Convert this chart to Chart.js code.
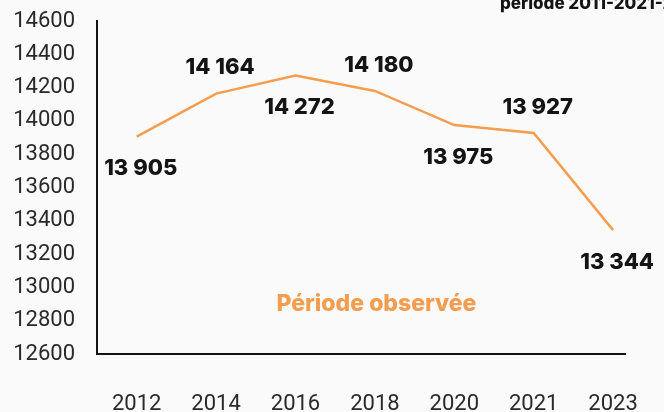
<!DOCTYPE html>
<html>
<head>
<meta charset="utf-8">
<script src="https://cdn.jsdelivr.net/npm/chart.js@4/dist/chart.umd.min.js"></script>
<style>
  html, body { margin: 0; padding: 0; background: #fafafa; }
  #wrap { width: 664px; height: 412px; position: relative; }
</style>
</head>
<body>
<div id="wrap"><canvas id="chart"></canvas></div>
<script>
// chart values
const years = ["2012", "2014", "2016", "2018", "2020", "2021", "2023"];
const counts = [13905, 14164, 14272, 14180, 13975, 13927, 13344];
const label_side = ["below", "above", "below", "above", "below", "above", "below"];
const y_min = 12600;
const y_max = 14600;
const y_step = 200;

const orange = "#f59d4e";
const ink = "#141414";

// 13905 -> "13 905"
const fmt = (v) => String(v).replace(/\B(?=(\d{3})+(?!\d))/g, " ");

// draws the value next to every point, above or below
const valueLabels = {
    id: "valueLabels",
    afterDatasetsDraw(chart) {
        const ctx = chart.ctx;
        const meta = chart.getDatasetMeta(0);
        ctx.save();
        ctx.font = "800 22px Inter";
        ctx.fillStyle = ink;
        ctx.textAlign = "center";
        ctx.textBaseline = "middle";
        meta.data.forEach((pt, i) => {
            const dy = label_side[i] === "above" ? -26 : 32;
            ctx.fillText(fmt(counts[i]), pt.x + 4, pt.y + dy);
        });
        ctx.restore();
    }
};

// orange note inside the plot and the clipped caption at the top right
const notes = {
    id: "notes",
    afterDraw(chart) {
        const ctx = chart.ctx;
        const xs = chart.scales.x;
        const ys = chart.scales.y;
        ctx.save();
        ctx.font = "800 23px Inter";
        ctx.fillStyle = orange;
        ctx.textAlign = "center";
        ctx.textBaseline = "middle";
        ctx.fillText("Période observée", xs.getPixelForValue(3.02), ys.getPixelForValue(12900));

        ctx.font = "800 17px Inter";
        ctx.fillStyle = ink;
        ctx.textAlign = "left";
        ctx.textBaseline = "alphabetic";
        ctx.fillText("période 2011-2021-2023", 500, 9);
        ctx.restore();
    }
};

const ctx = document.getElementById("chart").getContext("2d");
new Chart(ctx, {
    type: "line",
    data: {
        datasets: [{
            data: counts.map((v, i) => ({ x: i, y: v })),
            borderColor: orange,
            borderWidth: 2.5,
            pointRadius: 0,
            tension: 0,
            fill: false
        }]
    },
    options: {
        responsive: true,
        maintainAspectRatio: false,
        animation: false,
        layout: {
            padding: { top: 21, right: 39, left: 0, bottom: 0 }
        },
        plugins: {
            legend: { display: false },
            tooltip: { enabled: false }
        },
        scales: {
            x: {
                type: "linear",
                min: -0.5,
                max: 6.15,
                afterBuildTicks: (s) => { s.ticks = years.map((_, i) => ({ value: i })); },
                afterFit: (s) => {
                    s.height = 58;
                    s.paddingLeft = 0;
                    s.paddingRight = 0;
                },
                grid: { display: false, drawTicks: false },
                border: { display: true, color: ink, width: 2 },
                ticks: {
                    autoSkip: false,
                    maxRotation: 0,
                    padding: 37,
                    color: "#2a2a2a",
                    font: { family: "Roboto", size: 22 },
                    callback: (v) => years[v]
                }
            },
            y: {
                min: y_min,
                max: y_max,
                afterFit: (s) => {
                    s.width = 97;
                    s.paddingTop = 0;
                    s.paddingBottom = 0;
                },
                grid: { display: false, drawTicks: false },
                border: { display: true, color: ink, width: 2 },
                ticks: {
                    stepSize: y_step,
                    padding: 22,
                    color: "#2a2a2a",
                    font: { family: "Roboto", size: 22 },
                    callback: (v) => String(v)
                }
            }
        }
    },
    plugins: [valueLabels, notes]
});
</script>
</body>
</html>
